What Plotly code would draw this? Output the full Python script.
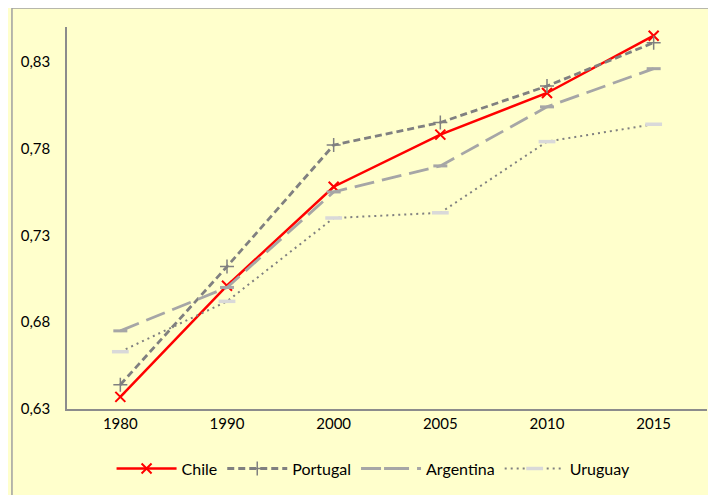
import plotly.graph_objects as go

years = ["1980", "1990", "2000", "2005", "2010", "2015"]
chile = [0.637, 0.701, 0.758, 0.788, 0.812, 0.845]
portugal = [0.644, 0.712, 0.782, 0.795, 0.816, 0.841]
argentina = [0.675, 0.700, 0.755, 0.770, 0.804, 0.826]
uruguay = [0.663, 0.692, 0.740, 0.743, 0.784, 0.794]
y_ticks = [0.63, 0.68, 0.73, 0.78, 0.83]

fig = go.Figure()
fig.add_trace(go.Scatter(
    x=years, y=chile, name="Chile", mode="lines+markers",
    line=dict(color="#FF0000", width=2.5),
    marker=dict(symbol="x-thin", size=10, color="#FF0000",
                line=dict(color="#FF0000", width=2)),
))
fig.add_trace(go.Scatter(
    x=years, y=portugal, name="Portugal", mode="lines+markers",
    line=dict(color="#808080", width=2.8, dash="7px,4px"),
    marker=dict(symbol="cross-thin", size=10, color="#808080",
                line=dict(color="#808080", width=1.5)),
))
fig.add_trace(go.Scatter(
    x=years, y=argentina, name="Argentina", mode="lines+markers",
    line=dict(color="#A6A6A6", width=2.8, dash="20px,8px"),
    marker=dict(symbol="line-ew", size=10, color="#A6A6A6",
                line=dict(color="#A6A6A6", width=3)),
))
fig.add_trace(go.Scatter(
    x=years, y=uruguay, name="Uruguay", mode="lines+markers",
    line=dict(color="#808080", width=2, dash="2px,4px"),
    marker=dict(symbol="line-ew", size=12, color="#D9D9D9",
                line=dict(color="#D9D9D9", width=3.5)),
))

fig.update_layout(
    width=708, height=487,
    margin=dict(l=59, r=9, t=19, b=84),
    paper_bgcolor="#FFFFCC", plot_bgcolor="#FFFFCC",
    separators=",.",
    font=dict(family="Lato, Noto Sans, sans-serif", size=15, color="#000000"),
    showlegend=True,
    legend=dict(orientation="h", x=0.479, xanchor="center", y=-0.156, yanchor="middle",
                bgcolor="rgba(0,0,0,0)", font=dict(size=16), itemwidth=60),
    xaxis=dict(type="category", range=[-0.5, 5.5], showgrid=False,
               showline=True, linecolor="#8C8C8C", linewidth=1.5,
               ticks="", tickfont=dict(size=15), fixedrange=True),
    yaxis=dict(range=[0.63, 0.85], tickvals=y_ticks, tickformat=".2f",
               showgrid=False, showline=True, linecolor="#8C8C8C", linewidth=1.5,
               ticks="", ticklabelstandoff=12, tickfont=dict(size=15), zeroline=False),
    shapes=[dict(type="rect", xref="paper", yref="paper",
                 x0=-0.086, x1=1.2, y0=-0.4, y1=1.05,
                 line=dict(color="#A0A0A0", width=1.5), fillcolor="rgba(0,0,0,0)",
                 layer="below")],
)

fig.write_html("out.html")
